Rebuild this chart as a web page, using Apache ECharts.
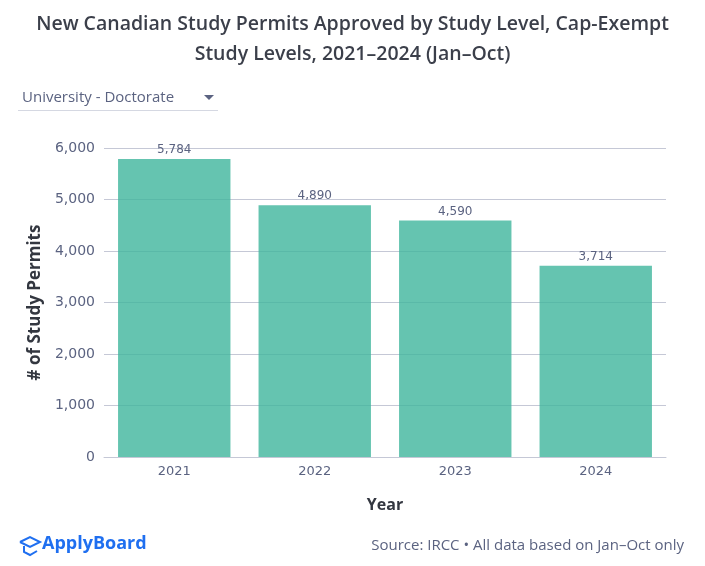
<!DOCTYPE html>
<html><head><meta charset="utf-8">
<script src="https://cdn.jsdelivr.net/npm/echarts@6/dist/echarts.min.js"></script>
<style>html,body{margin:0;padding:0;background:#fff;}#c{width:705px;height:566px;}</style>
</head><body><div id="c"></div>
<script>
const categories = ['2021', '2022', '2023', '2024'];
const permits = [5784, 4890, 4590, 3714];
const yTicks = [0, 1000, 2000, 3000, 4000, 5000, 6000];

const chart = echarts.init(document.getElementById('c'), null, {renderer: 'canvas'});
const gray = '#5b6381';
const numFont = '"DejaVu Sans", sans-serif';
chart.setOption({
  backgroundColor: '#ffffff',
  animation: false,
  textStyle: {fontFamily: '"Open Sans", sans-serif'},
  title: [{
    text: 'New Canadian Study Permits Approved by Study Level, Cap-Exempt\nStudy Levels, 2021–2024 (Jan–Oct)',
    left: 'center', top: 4,
    textStyle: {fontSize: 19.5, fontWeight: 600, color: '#3b3f4a', lineHeight: 30, fontFamily: '"Open Sans", sans-serif'}
  }],
  graphic: [
    {type: 'text', left: 22, top: 90, style: {text: 'University - Doctorate', fontSize: 15, fill: gray, fontFamily: '"Open Sans", sans-serif'}},
    {type: 'polygon', shape: {points: [[204, 95], [214, 95], [209, 100]]}, style: {fill: gray}},
    {type: 'line', shape: {x1: 18, y1: 110.5, x2: 218, y2: 110.5}, style: {stroke: '#d5d8e2', lineWidth: 1}},
    {type: 'text', left: 42, top: 535, style: {text: 'ApplyBoard', fontSize: 18, fontWeight: 'bold', fill: '#1f6ff0', fontFamily: '"Open Sans", sans-serif'}},
    {type: 'polyline', shape: {points: [[20, 542], [30, 537], [40, 542], [30, 547], [20, 542]]}, style: {stroke: '#1f6ff0', lineWidth: 2, fill: null}},
    {type: 'polyline', shape: {points: [[24, 546], [24, 552], [30, 555], [37, 551]]}, style: {stroke: '#1f6ff0', lineWidth: 2, fill: null}},
    {type: 'text', right: 21, top: 538, style: {text: 'Source: IRCC • All data based on Jan–Oct only', fontSize: 15, fill: gray, fontFamily: '"Open Sans", sans-serif'}}
  ],
  grid: {left: 104, right: 39, top: 148, bottom: 109},
  xAxis: {
    type: 'category', data: categories,
    name: 'Year', nameLocation: 'middle', nameGap: 40,
    nameTextStyle: {fontSize: 16, fontWeight: 'bold', color: '#333740', fontFamily: '"Open Sans", sans-serif'},
    axisLine: {lineStyle: {color: '#c5c8d6'}},
    axisTick: {show: false},
    axisLabel: {fontSize: 13, color: gray, margin: 8, fontFamily: numFont}
  },
  yAxis: {
    type: 'value', min: 0, max: 6000, interval: 1000,
    name: '# of Study Permits', nameLocation: 'middle', nameGap: 60,
    nameTextStyle: {fontSize: 17, fontWeight: 'bold', color: '#333740', fontFamily: '"Open Sans", sans-serif'},
    axisLine: {show: false}, axisTick: {show: false},
    splitLine: {lineStyle: {color: '#c5c8d6'}},
    axisLabel: {fontSize: 14, color: gray, margin: 9, fontFamily: numFont,
      formatter: v => yTicks.includes(v) ? v.toLocaleString('en-US') : ''}
  },
  series: [{
    type: 'bar', data: permits, barWidth: '80%',
    itemStyle: {color: 'rgba(62,181,156,0.8)'},
    z: 1,
    label: {show: true, position: 'top', distance: 3, fontSize: 12, color: gray, fontFamily: numFont,
      formatter: p => p.value.toLocaleString('en-US')}
  }]
});
</script></body></html>
